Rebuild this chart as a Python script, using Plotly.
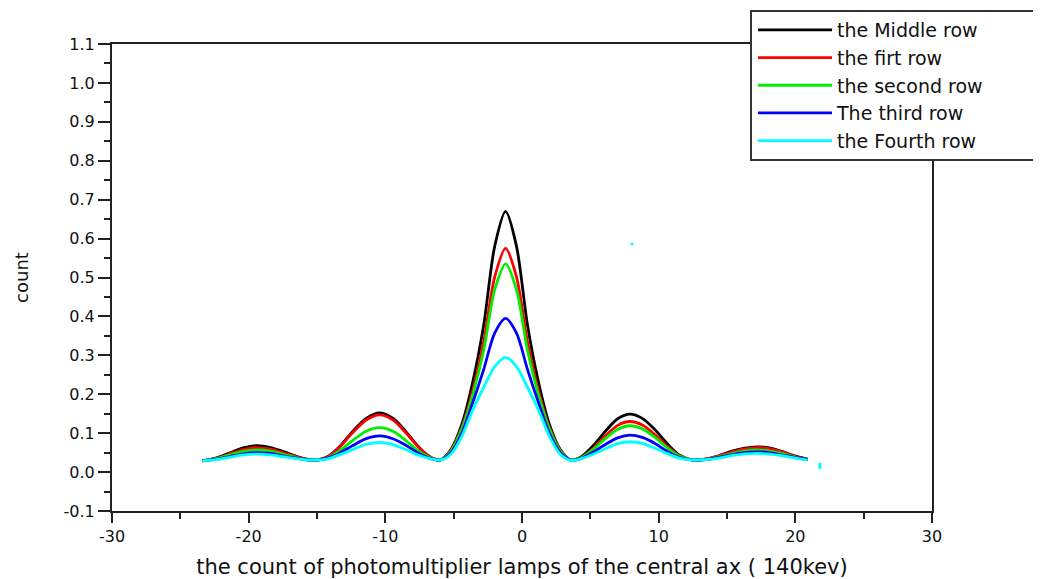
import plotly.graph_objects as go

# ---- data ----
x_pos = [-23.4, -22.4, -21.4, -20.4, -19.4, -18.4, -17.4, -16.4, -15.7, -15.0,
         -14.2, -13.3, -12.4, -11.4, -10.4, -9.4, -8.5, -7.6, -6.8, -6.0,
         -5.2, -4.4, -3.6, -2.8, -2.0, -1.2, -0.4, 0.4, 1.2, 2.0, 2.8, 3.6,
         4.4, 5.3, 6.1, 7.0, 7.9, 8.8, 9.7, 10.6, 11.5, 12.5,
         13.4, 14.4, 15.3, 16.2, 17.2, 18.1, 19.0, 20.0, 20.9]

middle_row = [0.029, 0.036, 0.049, 0.062, 0.068, 0.063, 0.052, 0.039, 0.033, 0.031,
              0.040, 0.067, 0.104, 0.138, 0.152, 0.137, 0.104, 0.066, 0.041, 0.031,
              0.058, 0.123, 0.232, 0.378, 0.580, 0.670, 0.580, 0.378, 0.232, 0.123, 0.058, 0.031,
              0.041, 0.071, 0.105, 0.137, 0.149, 0.138, 0.110, 0.074, 0.044, 0.031,
              0.033, 0.042, 0.053, 0.061, 0.065, 0.062, 0.053, 0.041, 0.033]

first_row = [0.029, 0.035, 0.047, 0.058, 0.063, 0.059, 0.049, 0.038, 0.032, 0.031,
             0.039, 0.066, 0.101, 0.134, 0.147, 0.133, 0.101, 0.065, 0.040, 0.031,
             0.056, 0.115, 0.210, 0.335, 0.501, 0.575, 0.501, 0.335, 0.210, 0.115, 0.056, 0.031,
             0.039, 0.064, 0.093, 0.120, 0.130, 0.121, 0.097, 0.067, 0.042, 0.031,
             0.033, 0.042, 0.051, 0.059, 0.063, 0.060, 0.052, 0.040, 0.033]

second_row = [0.029, 0.034, 0.044, 0.053, 0.057, 0.054, 0.045, 0.036, 0.032, 0.031,
              0.037, 0.056, 0.081, 0.105, 0.114, 0.104, 0.081, 0.055, 0.038, 0.031,
              0.054, 0.111, 0.199, 0.313, 0.468, 0.535, 0.468, 0.313, 0.199, 0.111, 0.054, 0.031,
              0.038, 0.061, 0.086, 0.110, 0.119, 0.111, 0.090, 0.063, 0.041, 0.031,
              0.032, 0.039, 0.047, 0.054, 0.057, 0.054, 0.048, 0.038, 0.032]

third_row = [0.029, 0.033, 0.040, 0.047, 0.050, 0.048, 0.041, 0.035, 0.031, 0.031,
             0.036, 0.050, 0.068, 0.086, 0.093, 0.085, 0.069, 0.049, 0.036, 0.031,
             0.050, 0.100, 0.179, 0.264, 0.357, 0.395, 0.357, 0.264, 0.179, 0.100, 0.050, 0.031,
             0.036, 0.053, 0.071, 0.088, 0.095, 0.089, 0.074, 0.054, 0.038, 0.031,
             0.032, 0.038, 0.044, 0.050, 0.052, 0.050, 0.044, 0.037, 0.032]

fourth_row = [0.029, 0.032, 0.038, 0.044, 0.046, 0.044, 0.039, 0.034, 0.031, 0.031,
              0.034, 0.045, 0.058, 0.071, 0.076, 0.070, 0.058, 0.044, 0.035, 0.031,
              0.046, 0.092, 0.160, 0.218, 0.271, 0.295, 0.271, 0.218, 0.160, 0.092, 0.046, 0.030,
              0.035, 0.047, 0.060, 0.073, 0.078, 0.074, 0.062, 0.048, 0.036, 0.031,
              0.032, 0.036, 0.042, 0.046, 0.048, 0.046, 0.042, 0.036, 0.031]

# stray marks in the reference
stray_x = [21.8, 21.8]
stray_y = [0.024, 0.008]
dot_x = [8.05]
dot_y = [0.587]

series_names = ["the Middle row", "the firt row", "the second row", "The third row", "the Fourth row"]
series_values = [middle_row, first_row, second_row, third_row, fourth_row]
series_colors = ["#000000", "#ff0000", "#00ee00", "#0000ff", "#00ffff"]

x_tick_vals = [-30, -20, -10, 0, 10, 20, 30]
x_tick_text = ["-30", "-20", "-10", "0", "10", "20", "30"]
y_tick_vals = [-0.1, 0.0, 0.1, 0.2, 0.3, 0.4, 0.5, 0.6, 0.7, 0.8, 0.9, 1.0, 1.1]
y_tick_text = ["-0.1", "0.0", "0.1", "0.2", "0.3", "0.4", "0.5", "0.6", "0.7", "0.8", "0.9", "1.0", "1.1"]

FONT = "DejaVu Sans"
OFF = 8  # page body offset of the figure div

# plot area in page pixels: x 112..932, y 44..511
PL, PR, PT, PB = 112, 932, 44, 511
PW, PH = PR - PL, PB - PT

def px_x(p):
    return (p - PL) / PW

def px_y(p):
    return (PB - p) / PH

fig = go.Figure()
for name, vals, col in zip(series_names, series_values, series_colors):
    fig.add_trace(go.Scatter(x=x_pos, y=vals, mode="lines", name=name,
                             line=dict(color=col, width=2.8, shape="spline", smoothing=0.8)))

fig.add_trace(go.Scatter(x=stray_x, y=stray_y, mode="lines", showlegend=False,
                         line=dict(color="#00ffff", width=3), hoverinfo="skip"))
fig.add_trace(go.Scatter(x=dot_x, y=dot_y, mode="markers", showlegend=False,
                         marker=dict(color="#00ffff", size=3), hoverinfo="skip"))

axis_common = dict(showgrid=False, zeroline=False, showline=True, linecolor="#222",
                   linewidth=2, mirror=True, ticks="outside", tickcolor="#222",
                   tickwidth=1.5, tickfont=dict(family=FONT, size=16, color="#111"))

fig.update_xaxes(range=[-30, 30], tickvals=x_tick_vals, ticktext=x_tick_text, ticklen=10,
                 minor=dict(ticks="outside", dtick=5, tick0=0, ticklen=6, tickcolor="#222", tickwidth=1.5),
                 title=dict(text="the count of photomultiplier lamps of the central ax ( 140kev)",
                            font=dict(family=FONT, size=21, color="#111"), standoff=15),
                 automargin=False, **axis_common)
fig.update_yaxes(range=[-0.1, 1.1], tickvals=y_tick_vals, ticktext=y_tick_text, ticklen=12,
                 minor=dict(ticks="outside", dtick=0.05, tick0=0, ticklen=6, tickcolor="#222", tickwidth=1.5),
                 title=dict(text="count", font=dict(family=FONT, size=18, color="#111"), standoff=30),
                 automargin=False, **axis_common)

# legend frame
fig.add_shape(type="rect", xref="paper", yref="paper",
              x0=px_x(751), x1=px_x(1039), y0=px_y(160), y1=px_y(11),
              line=dict(color="#333", width=2), fillcolor="white", layer="above")

fig.update_layout(
    width=1041 - OFF, height=579 - OFF,
    margin=dict(l=PL - OFF, r=1041 - PR, t=PT - OFF, b=579 - PB, autoexpand=False),
    paper_bgcolor="white", plot_bgcolor="white",
    showlegend=True,
    legend=dict(x=px_x(753), y=px_y(11), xanchor="left", yanchor="top",
                bgcolor="rgba(0,0,0,0)", borderwidth=0, itemwidth=74,
                font=dict(family=FONT, size=19, color="#111"), tracegroupgap=0),
)

fig.write_html("out.html")
